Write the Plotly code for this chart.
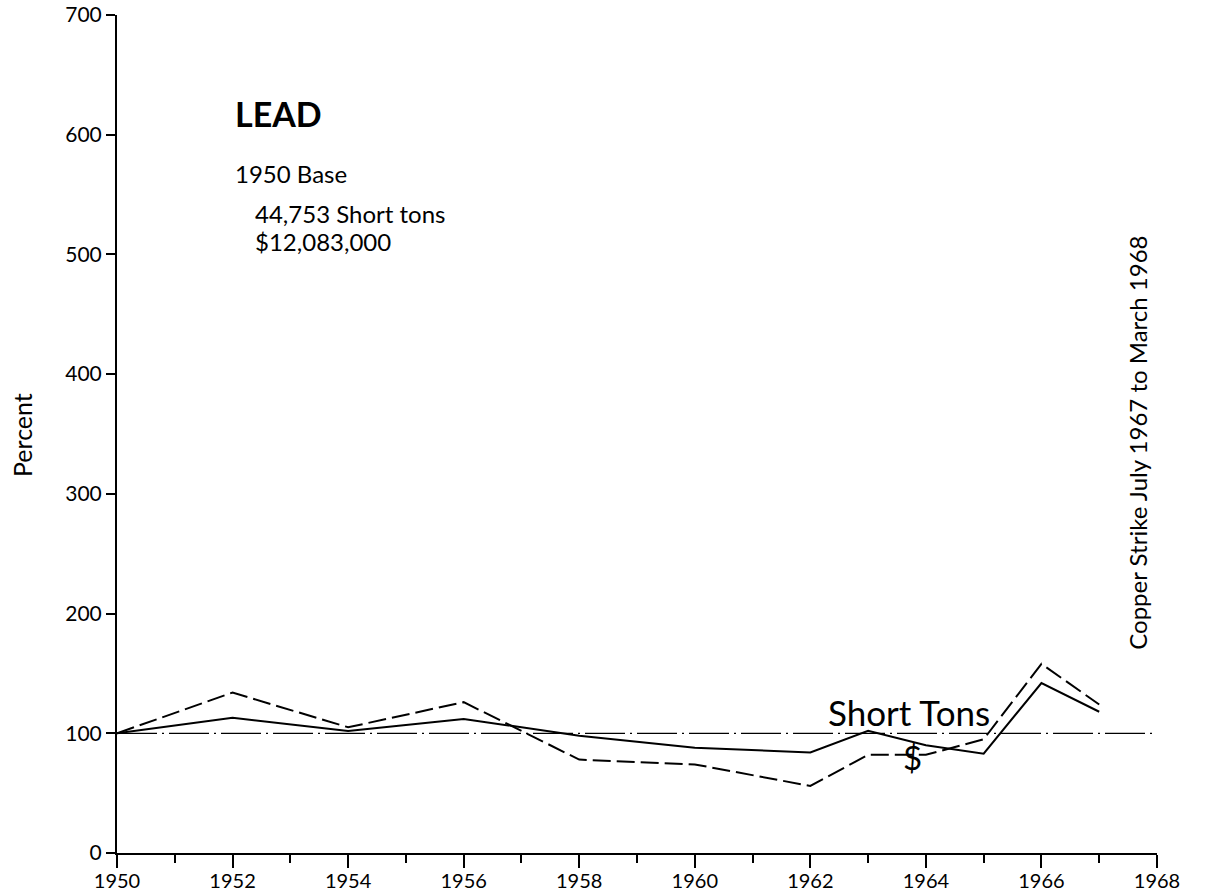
import plotly.graph_objects as go

years = [1950, 1952, 1954, 1956, 1958, 1960, 1962, 1963, 1964, 1965, 1966, 1967]
short_tons = [100, 113, 102, 112, 98, 88, 84, 102, 90, 83, 142, 118]
dollars = [100, 134, 105, 126, 78, 74, 56, 82, 82, 95, 158, 124]
base_years = [1950, 1968]
base_values = [100, 100]
x_ticks = list(range(1950, 1969, 2))
x_minor = list(range(1950, 1969, 1))
y_ticks = list(range(0, 701, 100))

FONT = "Lato"
W, H = 1230, 894
ML, MR, MT, MB = 117, 73, 15, 41

fig = go.Figure()
fig.add_trace(go.Scatter(x=base_years, y=base_values, mode="lines",
                         line=dict(color="black", width=1.3, dash="40px,5px,2px,5px"),
                         showlegend=False, hoverinfo="skip"))
fig.add_trace(go.Scatter(x=years, y=short_tons, mode="lines",
                         line=dict(color="black", width=2),
                         name="Short Tons", showlegend=False))
fig.add_trace(go.Scatter(x=years, y=dollars, mode="lines",
                         line=dict(color="black", width=2, dash="18px,6px"),
                         name="$", showlegend=False))

fig.update_layout(
    width=W, height=H,
    margin=dict(l=ML, r=MR, t=MT, b=MB),
    paper_bgcolor="white", plot_bgcolor="white",
    font=dict(family=FONT, color="black"),
    xaxis=dict(range=[1950, 1968], tickvals=x_ticks, showgrid=False, zeroline=False,
               automargin=False, ticklabeloverflow="allow", ticklabelstandoff=-4,
               showline=True, linecolor="black", linewidth=2,
               ticks="outside", ticklen=13, tickwidth=2, tickcolor="black",
               tickfont=dict(size=20, family=FONT),
               minor=dict(tickvals=x_minor, ticks="outside", ticklen=8, tickwidth=2, tickcolor="black")),
    yaxis=dict(range=[0, 700], tickvals=y_ticks, showgrid=False, zeroline=False,
               automargin=False, ticklabeloverflow="allow",
               showline=True, linecolor="black", linewidth=2,
               ticks="outside", ticklen=9, tickwidth=1.5, tickcolor="black",
               tickfont=dict(size=21, family=FONT)),
)

annots = [
    dict(x=1952.0, y=618, text="<b>LEAD</b>", font=dict(size=34), xanchor="left", yanchor="middle"),
    dict(x=1952.0, y=568, text="1950 Base", font=dict(size=24), xanchor="left", yanchor="middle"),
    dict(x=1952.35, y=534, text="44,753 Short tons", font=dict(size=24), xanchor="left", yanchor="middle"),
    dict(x=1952.35, y=511, text="$12,083,000", font=dict(size=24), xanchor="left", yanchor="middle"),
    dict(x=1963.7, y=118, text="Short Tons", font=dict(size=35), xanchor="center", yanchor="middle"),
    dict(x=1963.77, y=80, text="$", font=dict(size=33), xanchor="center", yanchor="middle"),
    dict(x=1967.66, y=343, text="Copper Strike July 1967 to March 1968", font=dict(size=24),
         textangle=-90, xanchor="center", yanchor="middle"),
]
for a in annots:
    a.update(xref="x", yref="y", showarrow=False)
    a["font"]["family"] = FONT
    a["font"]["color"] = "black"
    fig.add_annotation(**a)

# y-axis title placed as free text (page position ~ x=22, y=435)
px, py = 22, 435
fig.add_annotation(x=(px - ML) / (W - ML - MR), y=(H - MB - py) / (H - MT - MB),
                   xref="paper", yref="paper", text="Percent", showarrow=False,
                   textangle=-90, font=dict(size=25, family=FONT, color="black"),
                   xanchor="center", yanchor="middle")

fig.write_html("out.html", config={"displayModeBar": False},
               post_script="document.body.style.margin='0';document.body.style.overflow='hidden';")
